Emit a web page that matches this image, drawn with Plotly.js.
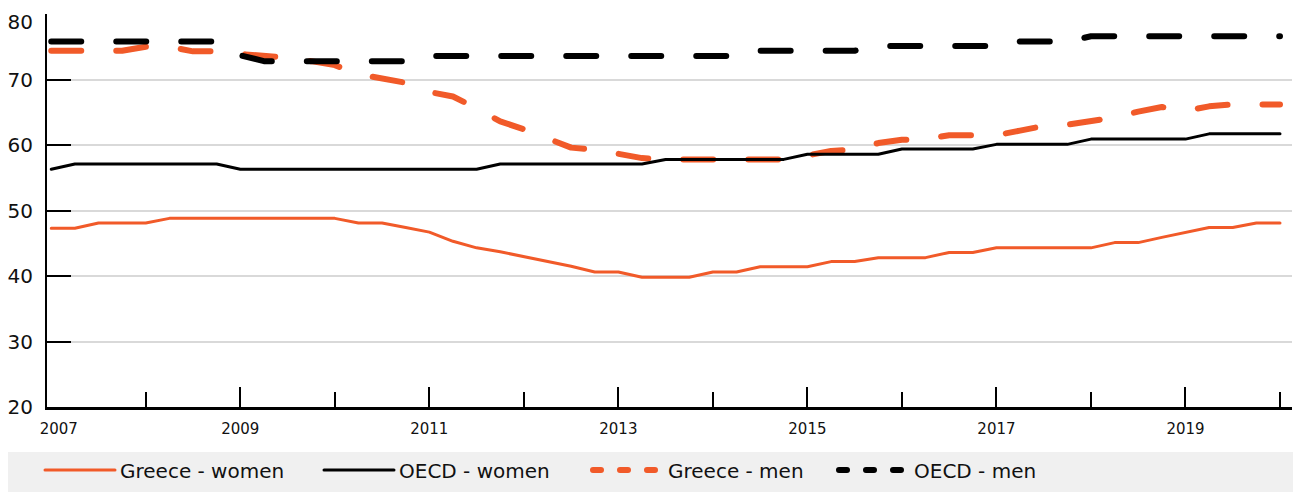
<!DOCTYPE html>
<html>
<head>
<meta charset="utf-8">
<script src="https://cdn.plot.ly/plotly-3.0.1.min.js"></script>
<style>
  html, body { margin: 0; padding: 0; background: #fff; }
  #chart { width: 1293px; height: 492px; }
  .scatterlayer .js-line { stroke-linecap: round; stroke-linejoin: round; }
  .legend .js-line, .legend2 .js-line, .legend3 .js-line, .legend4 .js-line { stroke-linecap: round; }
  .legend3 .js-line, .legend4 .js-line { stroke-dasharray: 8px 19px !important; }
</style>
</head>
<body>
<div id="chart"></div>
<script>
// Quarterly observations, 2007 Q1 to 2020 Q1
const quarters = [
  2007.00, 2007.25, 2007.50, 2007.75, 2008.00, 2008.25, 2008.50, 2008.75,
  2009.00, 2009.25, 2009.50, 2009.75, 2010.00, 2010.25, 2010.50, 2010.75,
  2011.00, 2011.25, 2011.50, 2011.75, 2012.00, 2012.25, 2012.50, 2012.75,
  2013.00, 2013.25, 2013.50, 2013.75, 2014.00, 2014.25, 2014.50, 2014.75,
  2015.00, 2015.25, 2015.50, 2015.75, 2016.00, 2016.25, 2016.50, 2016.75,
  2017.00, 2017.25, 2017.50, 2017.75, 2018.00, 2018.25, 2018.50, 2018.75,
  2019.00, 2019.25, 2019.50, 2019.75, 2020.00
];

const greeceWomen = [
  47.3, 47.3, 48.1, 48.1, 48.1, 48.8, 48.8, 48.8,
  48.8, 48.8, 48.8, 48.8, 48.8, 48.1, 48.1, 47.4,
  46.7, 45.3, 44.3, 43.7, 43.0, 42.3, 41.5, 40.6,
  40.6, 39.8, 39.8, 39.8, 40.6, 40.6, 41.4, 41.4,
  41.4, 42.2, 42.2, 42.8, 42.8, 42.8, 43.6, 43.6,
  44.3, 44.3, 44.3, 44.3, 44.3, 45.1, 45.1, 45.9,
  46.6, 47.4, 47.4, 48.1, 48.1
];

const oecdWomen = [
  56.3, 57.1, 57.1, 57.1, 57.1, 57.1, 57.1, 57.1,
  56.3, 56.3, 56.3, 56.3, 56.3, 56.3, 56.3, 56.3,
  56.3, 56.3, 56.3, 57.1, 57.1, 57.1, 57.1, 57.1,
  57.1, 57.1, 57.8, 57.8, 57.8, 57.8, 57.8, 57.8,
  58.6, 58.6, 58.6, 58.6, 59.4, 59.4, 59.4, 59.4,
  60.1, 60.1, 60.1, 60.1, 60.9, 60.9, 60.9, 60.9,
  60.9, 61.7, 61.7, 61.7, 61.7
];

const greeceMen = [
  74.4, 74.4, 74.4, 74.4, 75.0, 75.0, 74.3, 74.3,
  73.9, 73.7, 73.3, 72.8, 72.2, 70.8, 70.1, 69.5,
  68.1, 67.4, 65.6, 63.6, 62.4, 61.0, 59.6, 59.3,
  58.7, 58.0, 57.8, 57.8, 57.8, 57.8, 57.8, 57.8,
  58.4, 59.1, 59.3, 60.3, 60.8, 60.9, 61.5, 61.5,
  61.5, 62.2, 62.9, 63.1, 63.7, 64.2, 65.1, 65.8,
  65.2, 65.9, 66.2, 66.2, 66.2
];

const oecdMen = [
  75.8, 75.8, 75.8, 75.8, 75.8, 75.8, 75.8, 75.8,
  73.7, 72.8, 72.8, 72.8, 72.8, 72.8, 72.8, 72.8,
  73.6, 73.6, 73.6, 73.6, 73.6, 73.6, 73.6, 73.6,
  73.6, 73.6, 73.6, 73.6, 73.6, 73.6, 74.4, 74.4,
  74.4, 74.4, 74.4, 75.1, 75.1, 75.1, 75.1, 75.1,
  75.1, 75.8, 75.8, 75.8, 76.6, 76.6, 76.6, 76.6,
  76.6, 76.6, 76.6, 76.6, 76.6
];

const seriesNames = ['Greece - women', 'OECD - women', 'Greece - men', 'OECD - men'];
const majorYears = [2009, 2011, 2013, 2015, 2017, 2019];
const minorYears = [2008, 2010, 2012, 2014, 2016, 2018, 2020];
const xLabelVals = [2007.08, 2009, 2011, 2013, 2015, 2017, 2019];
const xLabelText = ['2007', '2009', '2011', '2013', '2015', '2017', '2019'];
const yGridVals = [20, 30, 40, 50, 60, 70, 80];
const yLabelVals = [20, 30, 40, 50, 60, 70, 78.8];
const yLabelText = ['20', '30', '40', '50', '60', '70', '80'];

const ORANGE = '#F15A29';
const BLACK = '#000000';
const FONT = 'DejaVu Sans, sans-serif';

const traces = [
  { x: quarters, y: greeceMen, name: seriesNames[2], type: 'scatter', mode: 'lines',
    line: { color: ORANGE, width: 6, dash: '30px,35px' }, legend: 'legend3', hoverinfo: 'skip' },
  { x: quarters, y: greeceWomen, name: seriesNames[0], type: 'scatter', mode: 'lines',
    xaxis: 'x2', yaxis: 'y2',
    line: { color: ORANGE, width: 3 }, legend: 'legend', hoverinfo: 'skip' },
  { x: quarters, y: oecdWomen, name: seriesNames[1], type: 'scatter', mode: 'lines',
    line: { color: BLACK, width: 3 }, legend: 'legend2', hoverinfo: 'skip' },
  { x: quarters, y: oecdMen, name: seriesNames[3], type: 'scatter', mode: 'lines',
    line: { color: BLACK, width: 6, dash: '30px,35px' }, legend: 'legend4', hoverinfo: 'skip' }
];

const xRange = [2006.955, 2020.127];
const legendBase = {
  xref: 'container', yref: 'container', xanchor: 'left', yanchor: 'middle',
  y: 1 - 470 / 492, orientation: 'h', bgcolor: 'rgba(0,0,0,0)', borderwidth: 0,
  itemwidth: 70, font: { family: FONT, size: 20, color: '#111' }
};

const layout = {
  width: 1293, height: 492,
  margin: { l: 47, r: 1, t: 14, b: 85, pad: 0 },
  paper_bgcolor: '#ffffff', plot_bgcolor: '#ffffff',
  font: { family: FONT, color: '#111' },
  showlegend: true,
  xaxis: {
    range: xRange, showline: true, linecolor: BLACK, linewidth: 3,
    ticks: 'inside', tickmode: 'array', tickvals: majorYears, ticklen: 20, tickwidth: 2, tickcolor: BLACK,
    showticklabels: false, showgrid: false, zeroline: false,
    minor: { tickmode: 'array', tickvals: minorYears, ticks: 'inside', ticklen: 15, tickwidth: 2, tickcolor: BLACK, showgrid: false }
  },
  xaxis2: {
    overlaying: 'x', anchor: 'y2', side: 'bottom', range: xRange,
    tickmode: 'array', tickvals: xLabelVals, ticktext: xLabelText, ticks: '',
    showline: false, showgrid: false, zeroline: false,
    tickfont: { family: FONT, size: 15, color: '#111' }, ticklabelstandoff: 11
  },
  yaxis: {
    range: [20, 80], showline: true, linecolor: BLACK, linewidth: 2,
    ticks: 'inside', tickmode: 'array', tickvals: yGridVals, ticklen: 24, tickwidth: 2, tickcolor: BLACK,
    showgrid: true, gridcolor: '#d9d9d9', gridwidth: 2, showticklabels: false, zeroline: false
  },
  yaxis2: {
    overlaying: 'y', anchor: 'x2', side: 'left', range: [20, 80],
    tickmode: 'array', tickvals: yLabelVals, ticktext: yLabelText, ticks: '',
    showline: false, showgrid: false, zeroline: false,
    tickfont: { family: FONT, size: 20, color: '#111' }, ticklabelstandoff: 13
  },
  legend: Object.assign({}, legendBase, { x: 40 / 1293 }),
  legend2: Object.assign({}, legendBase, { x: 319 / 1293 }),
  legend3: Object.assign({}, legendBase, { x: 588 / 1293 }),
  legend4: Object.assign({}, legendBase, { x: 834 / 1293 }),
  shapes: [{
    type: 'rect', xref: 'paper', yref: 'paper', layer: 'below',
    x0: (8 - 47) / 1245, x1: 1.01, y0: (407 - 493) / 393, y1: (407 - 452) / 393,
    fillcolor: '#f0f0f0', line: { width: 0 }
  }]
};

Plotly.newPlot('chart', traces, layout, { staticPlot: true, displayModeBar: false });
</script>
</body>
</html>
